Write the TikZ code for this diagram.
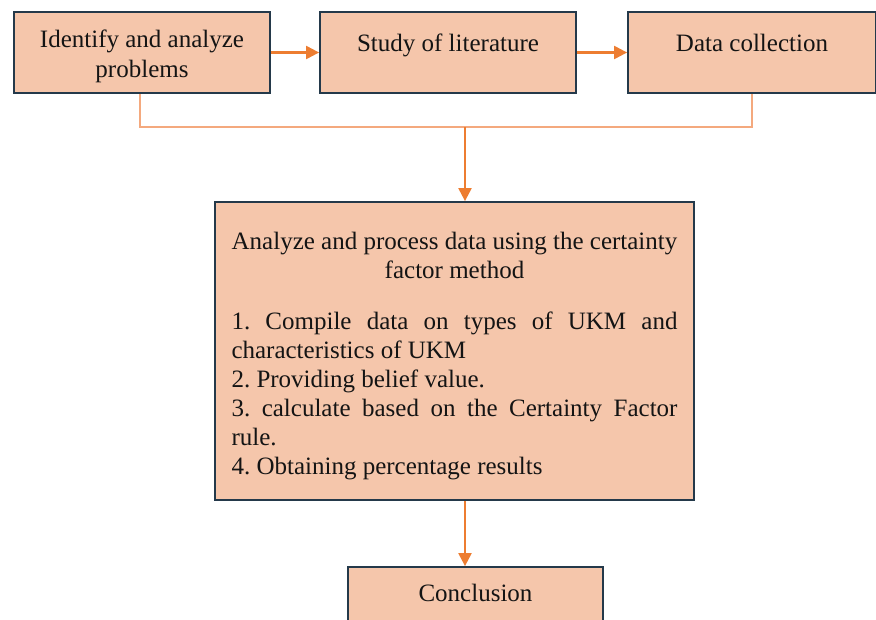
\documentclass[tikz,border=0pt]{standalone}
\usepackage{fontspec}
\setmainfont{Liberation Serif}
\usetikzlibrary{arrows.meta}
\setlength{\parindent}{0pt}
\definecolor{boxfill}{HTML}{F5C6AB}
\definecolor{boxedge}{HTML}{24394A}
\definecolor{arr}{HTML}{ED7D31}
\definecolor{thinl}{HTML}{F4A97E}
\tikzset{
  stepbox/.style={draw=boxedge, line width=1.8pt, fill=boxfill, rectangle, inner sep=0pt,
    font=\fontsize{25}{29.5}\selectfont, align=center, text=black!92},
  arrowline/.style={draw=arr, line width=2.2pt, -{Triangle[length=13pt,width=13pt]}},
  joinline/.style={draw=thinl, line width=1.4pt}
}
\begin{document}
\begin{tikzpicture}[x=1pt,y=-1pt]
\useasboundingbox (0,0) rectangle (876,619);
\clip (0,0) rectangle (876,619);
\node[stepbox, minimum width=256pt, minimum height=81pt] (b1) at (142,52.5) {\strut\\[-24.5pt]Identify and analyze\\problems};
\node[stepbox, minimum width=256pt, minimum height=81pt] (b2) at (448,52.5) {Study of literature\\[-19pt]\strut};
\node[stepbox, minimum width=248pt, minimum height=81pt] (b3) at (752,52.5) {Data collection\\[-19pt]\strut};
\node[stepbox, minimum width=479pt, minimum height=298pt, text width=446pt, align=justify] (b4) at (454.5,351)
{\tolerance=10000\hyphenpenalty=10000\exhyphenpenalty=10000\frenchspacing\baselineskip=29pt
{\centering\rule{0pt}{28pt}Analyze and process data using the certainty\\factor method\par}
\vspace{22pt}
1. Compile data on types of UKM and characteristics of UKM\par
2. Providing belief value.\par
3. calculate based on the Certainty Factor rule.\par
4. Obtaining percentage results\par};
\node[stepbox, minimum width=255pt, minimum height=81pt] (b5) at (475.5,607.5) {Conclusion\\[-9pt]\strut};
\coordinate (j) at (465,127);
\coordinate (s4) at (465,500);
\draw[arrowline] (b1.east) -- (b2.west);
\draw[arrowline] (b2.east) -- (b3.west);
\draw[joinline] (b1.south) ++(-2,0) coordinate (b1s) (b1s) |- (j) -| (b3.south);
\draw[arrowline] (j) -- (j |- b4.north);
\draw[arrowline] (s4 |- b4.south) -- (s4 |- b5.north);
\end{tikzpicture}
\end{document}
